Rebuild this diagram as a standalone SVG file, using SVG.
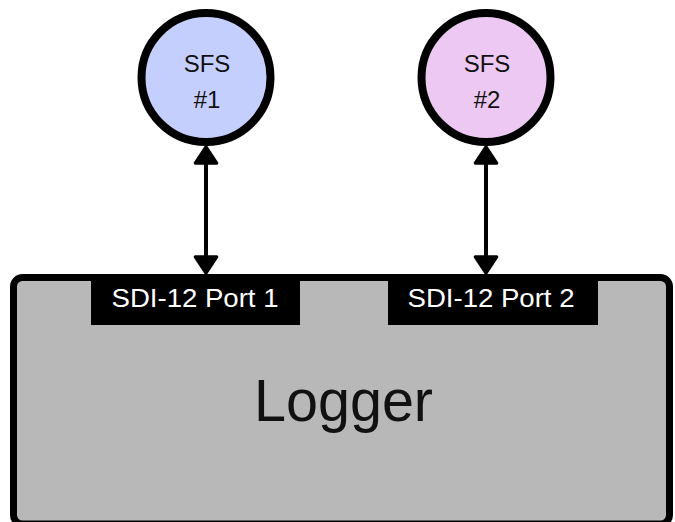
<svg xmlns="http://www.w3.org/2000/svg" width="675" height="522" viewBox="0 0 675 522">
<defs>
<style>
.sfs{stroke:#000;stroke-width:8}
.lbl{font-family:"Liberation Sans",Arial,sans-serif;fill:#111;text-anchor:middle}
.port{fill:#000}
.portt{font-family:"Liberation Sans",Arial,sans-serif;fill:#fff;font-size:26px;text-anchor:middle}
.conn{stroke:#000;stroke-width:4;fill:none}
</style>
<marker id="ah" markerUnits="userSpaceOnUse" markerWidth="30" markerHeight="30" viewBox="-2 -14 22 28" refX="17" refY="0" orient="auto-start-reverse">
<path d="M2,-10 L17,0 L2,10 Z" fill="#000" stroke="#000" stroke-width="3" stroke-linejoin="round"/>
</marker>
</defs>
<rect width="675" height="522" fill="#fff"/>
<g id="logger">
<rect x="13.5" y="277.5" width="656" height="246.5" rx="9" fill="#b8b8b8" stroke="#000" stroke-width="7"/>
<text class="lbl" x="343.5" y="420.5" font-size="59" textLength="179" lengthAdjust="spacingAndGlyphs">Logger</text>
</g>
<g id="port1">
<rect class="port" x="91" y="274" width="209" height="51"/>
<text class="portt" x="195" y="306.5" textLength="167" lengthAdjust="spacingAndGlyphs">SDI-12 Port 1</text>
</g>
<g id="port2">
<rect class="port" x="388" y="274" width="210" height="51"/>
<text class="portt" x="491" y="306.5" textLength="167" lengthAdjust="spacingAndGlyphs">SDI-12 Port 2</text>
</g>
<g id="sfs1">
<circle class="sfs" cx="206" cy="77.5" r="64.5" fill="#c5cffd"/>
<text class="lbl" x="207" y="71.5" font-size="24">SFS</text>
<text class="lbl" x="207" y="107.5" font-size="24">#1</text>
</g>
<g id="sfs2">
<circle class="sfs" cx="486" cy="77.5" r="64.5" fill="#ecc8f2"/>
<text class="lbl" x="487" y="71.5" font-size="24">SFS</text>
<text class="lbl" x="487" y="107.5" font-size="24">#2</text>
</g>
<g id="connectors">
<line class="conn" x1="206" y1="147" x2="206" y2="273" marker-start="url(#ah)" marker-end="url(#ah)"/>
<line class="conn" x1="486" y1="147" x2="486" y2="273" marker-start="url(#ah)" marker-end="url(#ah)"/>
</g>
</svg>
